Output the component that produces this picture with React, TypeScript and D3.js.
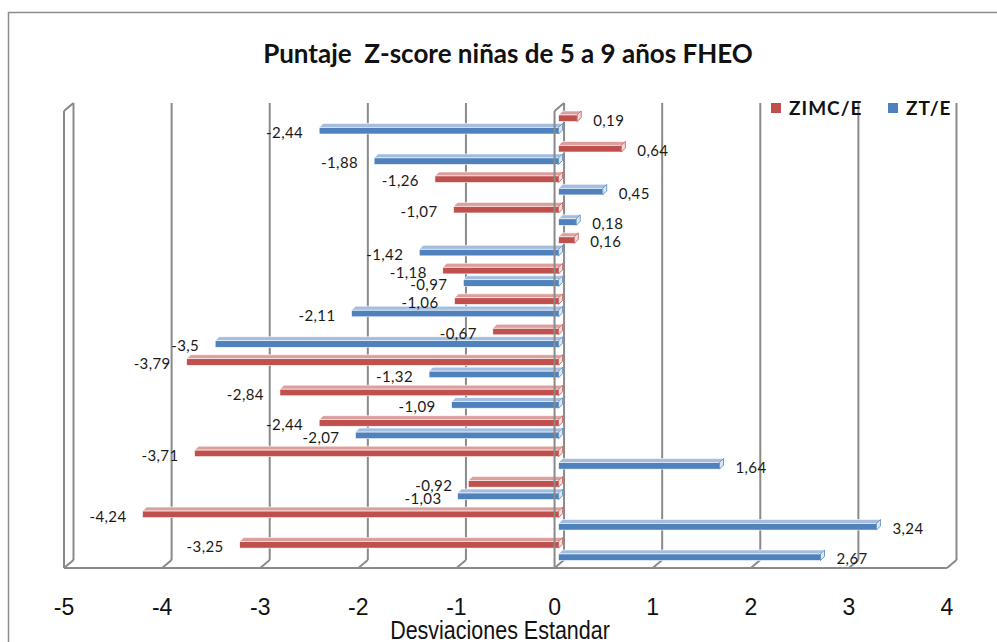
import { scaleBand, scaleLinear } from 'd3'

const groups = ['1', '2', '3', '4', '5', '6', '7', '8', '9', '10', '11', '12', '13', '14', '15']
const seriesNames = ['ZIMC/E', 'ZT/E']
const zimcValues = [0.19, 0.64, -1.26, -1.07, 0.16, -1.18, -1.06, -0.67, -3.79, -2.84, -2.44, -3.71, -0.92, -4.24, -3.25]
const ztValues = [-2.44, -1.88, 0.45, 0.18, -1.42, -0.97, -2.11, -3.5, -1.32, -1.09, -2.07, 1.64, -1.03, 3.24, 2.67]
const xTicks = [-5, -4, -3, -2, -1, 0, 1, 2, 3, 4]

const width = 997
const height = 642

// depth of the 3D walls and of the bars
const wallDx = 9.5
const wallDy = 8
const barDx = 4
const barDy = 4

const plot = { left: 64, right: 947, top: 103, bottom: 560 }

const palette = [
  { face: '#c0504d', top: '#dd9f9d', side: '#f4dedd' },
  { face: '#4f81bd', top: '#a2bddf', side: '#dde7f3' },
]

const labelFont = 'Lato, "Open Sans", sans-serif'
const narrowFont = '"Liberation Sans Narrow", "Arial Narrow", sans-serif'
const gridColor = '#8a8a8a'

function fmt(v: number) {
  return String(v).replace('.', ',')
}

function App() {
  const xScale = scaleLinear().domain([-5, 4]).range([plot.left, plot.right])
  const yScale = scaleBand().domain(groups).range([plot.top, plot.bottom]).paddingInner(0)
  const subScale = scaleBand().domain(seriesNames).range([8, 31]).paddingInner(0.15)

  const x0 = xScale(0)
  const frontBottom = plot.bottom + wallDy

  const seriesValues = [zimcValues, ztValues]

  return (
    <svg
      width={width}
      height={height}
      viewBox={`0 0 ${width} ${height}`}
      style={{ position: 'absolute', left: 0, top: 0, background: '#fff' }}
    >
      <rect x={8.5} y={12.5} width={1100} height={800} fill="#fff" stroke="#8c8c8c" strokeWidth={1.5} />

      <text
        x={508}
        y={63}
        textAnchor="middle"
        fontFamily={labelFont}
        fontWeight={700}
        fontSize={26}
        fill="#111"
      >
        Puntaje{'\u00a0'} Z-score niñas de 5 a 9 años FHEO
      </text>

      {/* back wall grid lines with floor stubs */}
      {xTicks.map((tick) => {
        const x = xScale(tick)
        return (
          <g key={`grid-${tick}`} stroke={gridColor} strokeWidth={2} fill="none">
            <line x1={x + wallDx} y1={plot.top} x2={x + wallDx} y2={plot.bottom} />
            <line x1={x + wallDx} y1={plot.bottom} x2={x} y2={frontBottom} />
          </g>
        )
      })}

      {/* left wall front edge and floor */}
      <g stroke={gridColor} strokeWidth={2} fill="none">
        <line x1={plot.left} y1={plot.top + wallDy} x2={plot.left} y2={frontBottom} />
        <line x1={plot.left} y1={plot.top + wallDy} x2={plot.left + wallDx} y2={plot.top} />
        <line x1={plot.left} y1={frontBottom} x2={plot.right} y2={frontBottom} />
      </g>

      {/* bars */}
      {groups.map((group, gi) =>
        seriesNames.map((name, si) => {
          const value = seriesValues[si][gi]
          const colors = palette[si]
          const bandY = (yScale(group) ?? 0) + (subScale(name) ?? 0)
          const y = bandY + barDy
          const h = subScale.bandwidth() - barDy
          const xa = xScale(Math.min(0, value)) + barDx
          const xb = xScale(Math.max(0, value)) + barDx
          const top = `${xa},${y} ${xb},${y} ${xb + barDx},${y - barDy} ${xa + barDx},${y - barDy}`
          const side = `${xb},${y} ${xb + barDx},${y - barDy} ${xb + barDx},${y + h - barDy} ${xb},${y + h}`
          return (
            <g key={`${group}-${name}`}>
              <polygon points={top} fill={colors.top} stroke="#fff" strokeWidth={0.6} />
              <rect x={xa} y={y} width={xb - xa} height={h} fill={colors.face} stroke="#fff" strokeWidth={0.6} />
              <polygon points={side} fill={colors.side} stroke={colors.face} strokeWidth={0.8} />
            </g>
          )
        }),
      )}

      {/* zero wall */}
      <g stroke={gridColor} strokeWidth={2} fill="none">
        <line x1={x0} y1={plot.top + wallDy} x2={x0} y2={frontBottom} />
        <line x1={x0} y1={plot.top + wallDy} x2={x0 + wallDx} y2={plot.top} />
      </g>

      {/* data labels */}
      {groups.map((group, gi) =>
        seriesNames.map((name, si) => {
          const value = seriesValues[si][gi]
          const bandY = (yScale(group) ?? 0) + (subScale(name) ?? 0)
          const cy = bandY + barDy + (subScale.bandwidth() - barDy) / 2 + 2
          const positive = value >= 0
          return (
            <text
              key={`label-${group}-${name}`}
              x={positive ? xScale(value) + 20 : xScale(value) - 12}
              y={cy}
              dy="0.35em"
              textAnchor={positive ? 'start' : 'end'}
              fontFamily={labelFont}
              fontSize={15}
              letterSpacing={0.4}
              fill="#1a1a1a"
            >
              {fmt(value)}
            </text>
          )
        }),
      )}

      {/* x axis tick labels */}
      {xTicks.map((tick) => (
        <text
          key={`tick-${tick}`}
          x={xScale(tick)}
          y={615}
          textAnchor="middle"
          fontFamily={narrowFont}
          fontSize={23}
          fill="#111"
        >
          {tick}
        </text>
      ))}

      <g transform="translate(500, 639) scale(0.86, 1)">
        <text
          x={0}
          y={0}
          textAnchor="middle"
          fontFamily={narrowFont}
          fontSize={25}
          fill="#111"
        >
          Desviaciones Estandar
        </text>
      </g>

      {/* legend */}
      {seriesNames.map((name, si) => {
        const lx = si === 0 ? 771 : 888
        return (
          <g key={`legend-${name}`}>
            <rect x={lx} y={103} width={10} height={10} fill={palette[si].face} />
            <text
              x={lx + 18}
              y={108}
              dy="0.35em"
              fontFamily={labelFont}
              fontWeight={700}
              fontSize={19}
              letterSpacing={1}
              fill="#111"
            >
              {name}
            </text>
          </g>
        )
      })}
    </svg>
  )
}

export default App
